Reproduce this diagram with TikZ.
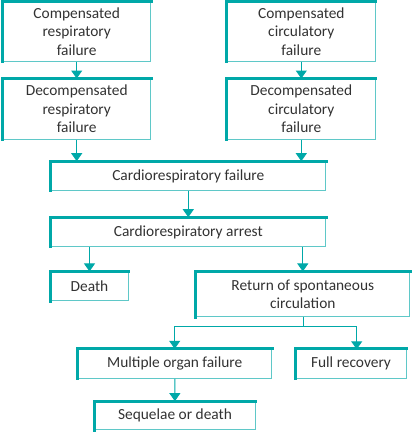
\documentclass[tikz,border=0pt]{standalone}
\usepackage{fontspec}
\setmainfont{Carlito}
\usetikzlibrary{arrows.meta}

\definecolor{boxteal}{RGB}{0,168,168}
\definecolor{rimteal}{RGB}{95,200,200}
\definecolor{txtgrey}{RGB}{50,50,50}

\tikzset{
  stage/.style={draw=rimteal, line width=1pt, inner sep=0pt, align=center,
    text=txtgrey, font=\fontsize{15.4}{18.3}\selectfont},
  rim/.style={draw=boxteal, line width=3.2pt, line cap=rect},
  flow/.style={draw=boxteal, line width=1pt, -{Triangle[width=11pt,length=8pt]}},
  link/.style={draw=boxteal, line width=1pt}
}

\begin{document}
\begin{tikzpicture}[x=1pt,y=-1pt]
        \useasboundingbox (0,0) rectangle (417,432);
        % first row
        \node[stage, minimum width=148pt, minimum height=59pt] (crc) at (76.7,31.5) {Compensated\\respiratory\\failure};
        \node[stage, minimum width=148pt, minimum height=59pt] (ccc) at (301.3,31.5) {Compensated\\circulatory\\failure};
        \node[stage, minimum width=148pt, minimum height=60pt] (drc) at (76.7,109) {Decompensated\\respiratory\\failure};
        \node[stage, minimum width=148pt, minimum height=60pt] (dcc) at (301.3,109) {Decompensated\\circulatory\\failure};
        % middle
        \node[stage, minimum width=275pt, minimum height=28.6pt] (crf) at (188.3,176) {Cardiorespiratory failure};
        \node[stage, minimum width=275pt, minimum height=28.6pt] (cra) at (188.3,232) {Cardiorespiratory arrest};
        \node[stage, minimum width=77.6pt, minimum height=28.7pt] (death) at (89.5,286.3) {Death};
        \node[stage, minimum width=213.7pt, minimum height=44.7pt] (rosc) at (302.8,294.3) {Return of spontaneous\\circulation};
        % bottom
        \node[stage, minimum width=194pt, minimum height=29pt] (mof) at (174.7,363.8) {Multiple organ failure};
        \node[stage, minimum width=110pt, minimum height=29pt] (full) at (351,363.8) {Full recovery};
        \node[stage, minimum width=160pt, minimum height=28.3pt] (seq) at (175,415.8) {Sequelae or death};
        % heavy top and left edges
        \foreach \n in {crc,ccc,drc,dcc,crf,cra,death,rosc,mof,full,seq}
            \draw[rim] (\n.south west) |- (\n.north east);
        % arrows
        \draw[flow] (crc) -- (drc);
        \draw[flow] (ccc) -- (dcc);
        \draw[flow] (drc.south) -- (drc.south |- crf.north);
        \draw[flow] (dcc.south) -- (dcc.south |- crf.north);
        \draw[flow] (crf) -- (cra);
        \draw[flow] (cra.south -| death.north) -- (death.north);
        \draw[flow] (cra.south -| rosc.north) -- (rosc.north);
        \coordinate (split) at (303.3,326);
        \coordinate (fullin) at (356.7,349.3);
        \draw[link] (rosc.south -| split) -- (split);
        \draw[flow] (split) -| (mof.north);
        \draw[flow] (split) -| (fullin);
        \draw[flow] (mof) -- (seq);
    \end{tikzpicture}
\end{document}
